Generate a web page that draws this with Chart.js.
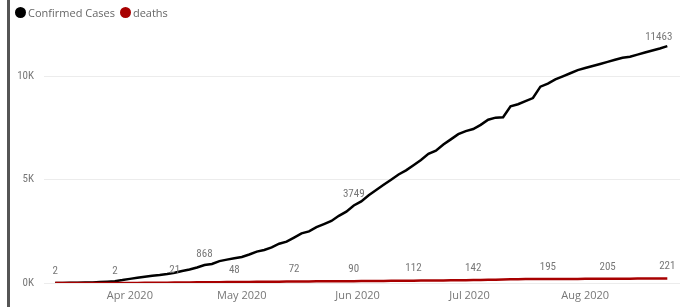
<!DOCTYPE html>
<html>
<head>
<meta charset="utf-8">
<script src="https://cdn.jsdelivr.net/npm/chart.js@4/dist/chart.umd.min.js"></script>
<style>
  html, body { margin: 0; padding: 0; background: #fff; }
  #wrap { position: relative; width: 686px; height: 307px; overflow: hidden; }
  #bar { position: absolute; left: 7px; top: 0; width: 3px; height: 307px; background: #555; }
  #legend { position: absolute; left: 15px; top: 5px; font: 11px 'Open Sans', 'Noto Sans', sans-serif; color: #666; display: flex; align-items: center; }
  #legend span.dot { display: inline-block; width: 11px; height: 11px; border-radius: 50%; margin-right: 2px; }
  #legend span.item { display: inline-flex; align-items: center; margin-right: 5px; }
  canvas { position: absolute; left: 0; top: 0; }
</style>
</head>
<body>
<div id="wrap">
  <canvas id="chart" width="686" height="307"></canvas>
  <div id="bar"></div>
  <div id="legend"></div>
</div>
<script>
const dates = [
  '2020-03-12','2020-03-14','2020-03-16','2020-03-18','2020-03-20','2020-03-22','2020-03-24','2020-03-26','2020-03-28','2020-03-30',
  '2020-04-01','2020-04-03','2020-04-05','2020-04-07','2020-04-09','2020-04-11','2020-04-13','2020-04-15','2020-04-17','2020-04-19',
  '2020-04-21','2020-04-23','2020-04-25','2020-04-27','2020-04-29',
  '2020-05-01','2020-05-03','2020-05-05','2020-05-07','2020-05-09','2020-05-11','2020-05-13','2020-05-15','2020-05-17','2020-05-19',
  '2020-05-21','2020-05-23','2020-05-25','2020-05-27','2020-05-29','2020-05-31',
  '2020-06-02','2020-06-04','2020-06-06','2020-06-08','2020-06-10','2020-06-12','2020-06-14','2020-06-16','2020-06-18','2020-06-20',
  '2020-06-22','2020-06-24','2020-06-26','2020-06-28','2020-06-30',
  '2020-07-02','2020-07-04','2020-07-06','2020-07-08','2020-07-10','2020-07-12','2020-07-14','2020-07-16','2020-07-18','2020-07-20',
  '2020-07-22','2020-07-24','2020-07-26','2020-07-28','2020-07-30',
  '2020-08-01','2020-08-03','2020-08-05','2020-08-07','2020-08-09','2020-08-11','2020-08-13','2020-08-15','2020-08-17','2020-08-19',
  '2020-08-21','2020-08-23'
];

const confirmedCases = [
  2, 4, 8, 12, 20, 30, 45, 65, 90, 140,
  200, 250, 300, 350, 390, 440, 500, 580, 650, 750,
  868, 920, 1060, 1130, 1200,
  1260, 1380, 1520, 1600, 1720, 1900, 2000, 2200, 2400, 2500,
  2700, 2850, 3000, 3250, 3450, 3749,
  3950, 4250, 4500, 4750, 5000, 5250, 5450, 5700, 5950, 6250,
  6400, 6700, 6950, 7200, 7350,
  7450, 7650, 7900, 8000, 8020, 8550, 8650, 8800, 8950, 9500,
  9650, 9850, 10000, 10150, 10300,
  10400, 10500, 10600, 10700, 10800, 10900, 10950, 11050, 11150, 11250,
  11350, 11463
];

const deaths = [
  2, 2, 2, 2, 2, 2, 2, 2, 2, 3,
  4, 6, 8, 11, 14, 18, 21, 25, 28, 31,
  34, 38, 41, 45, 48,
  51, 54, 57, 60, 63, 66, 69, 72, 74, 77,
  79, 81, 83, 85, 88, 90,
  93, 96, 99, 102, 104, 107, 110, 112, 116, 120,
  123, 127, 130, 134, 138,
  142, 148, 155, 162, 170, 178, 184, 188, 191, 193,
  195, 196, 197, 198, 199,
  200, 202, 203, 205, 207, 209, 211, 213, 215, 217,
  219, 221
];

const caseLabelDates = ['2020-04-21', '2020-05-31', '2020-08-23'];
const deathLabelDates = ['2020-03-12', '2020-03-28', '2020-04-13', '2020-04-29', '2020-05-15', '2020-05-31',
  '2020-06-16', '2020-07-02', '2020-07-22', '2020-08-07', '2020-08-23'];

const monthTicks = ['2020-04-01', '2020-05-01', '2020-06-01', '2020-07-01', '2020-08-01'];
const monthLabels = ['Apr 2020', 'May 2020', 'Jun 2020', 'Jul 2020', 'Aug 2020'];

const yTicks = [0, 5000, 10000];
const yTickLabels = ['0K', '5K', '10K'];

const seriesNames = ['Confirmed Cases', 'deaths'];
const seriesColors = ['#000000', '#a80000'];

const day = s => Date.parse(s + 'T00:00:00Z') / 86400000;

const labelFont = "11px 'Roboto Condensed', 'DejaVu Sans Condensed', Roboto, sans-serif";

// legend
const legend = document.getElementById('legend');
seriesNames.forEach((name, i) => {
  const item = document.createElement('span');
  item.className = 'item';
  item.innerHTML = '<span class="dot" style="background:' + seriesColors[i] + '"></span>' + name;
  legend.appendChild(item);
});

const dataLabels = {
  id: 'dataLabels',
  afterDatasetsDraw(chart) {
    const ctx = chart.ctx;
    const xs = chart.scales.x;
    const ys = chart.scales.y;
    ctx.save();
    ctx.font = labelFont;
    ctx.fillStyle = '#777';
    ctx.textBaseline = 'middle';
    deathLabelDates.forEach(d => {
      const i = dates.indexOf(d);
      const px = xs.getPixelForValue(day(d));
      const py = ys.getPixelForValue(deaths[i]);
      ctx.textAlign = 'center';
      ctx.fillText(String(deaths[i]), px, py - 12);
    });
    caseLabelDates.forEach((d, k) => {
      const i = dates.indexOf(d);
      const px = xs.getPixelForValue(day(d));
      const py = ys.getPixelForValue(confirmedCases[i]);
      if (k === caseLabelDates.length - 1) {
        ctx.textAlign = 'right';
        ctx.fillText(String(confirmedCases[i]), px + 5, py - 9);
      } else {
        ctx.textAlign = 'center';
        ctx.fillText(String(confirmedCases[i]), px, py - 11);
      }
    });
    ctx.restore();
  }
};

const first = day(dates[0]);
const last = day(dates[dates.length - 1]);

new Chart(document.getElementById('chart'), {
  type: 'line',
  data: {
    datasets: [
      {
        label: seriesNames[0],
        data: dates.map((d, i) => ({ x: day(d), y: confirmedCases[i] })),
        borderColor: seriesColors[0],
        borderWidth: 2.5,
        pointRadius: 0,
        tension: 0,
        order: 1
      },
      {
        label: seriesNames[1],
        data: dates.map((d, i) => ({ x: day(d), y: deaths[i] })),
        borderColor: seriesColors[1],
        borderWidth: 2.5,
        pointRadius: 0,
        tension: 0,
        order: 0
      }
    ]
  },
  options: {
    responsive: false,
    animation: false,
    layout: { padding: { left: 0, top: 35, right: 6, bottom: 0 } },
    plugins: {
      legend: { display: false },
      tooltip: { enabled: false }
    },
    scales: {
      x: {
        type: 'linear',
        min: first - 3,
        max: last + 3.4,
        afterBuildTicks: s => { s.ticks = monthTicks.map(d => ({ value: day(d) })); },
        afterFit: s => { s.height = 24; },
        grid: { display: false, drawTicks: false },
        border: { display: false },
        ticks: {
          autoSkip: false,
          maxRotation: 0,
          padding: 6,
          color: '#777',
          font: { family: "'Open Sans', 'Noto Sans', sans-serif", size: 11 },
          callback: (v, i) => monthLabels[i]
        }
      },
      y: {
        min: 0,
        max: 12000,
        afterBuildTicks: s => { s.ticks = yTicks.map(v => ({ value: v })); },
        afterFit: s => { s.width = 44; },
        grid: { color: '#ececec', lineWidth: 1, drawTicks: false },
        border: { display: false },
        ticks: {
          padding: 10,
          color: '#777',
          font: { family: "'Roboto Condensed', 'DejaVu Sans Condensed', Roboto, sans-serif", size: 11 },
          callback: (v, i) => yTickLabels[i]
        }
      }
    }
  },
  plugins: [dataLabels]
});
</script>
</body>
</html>
